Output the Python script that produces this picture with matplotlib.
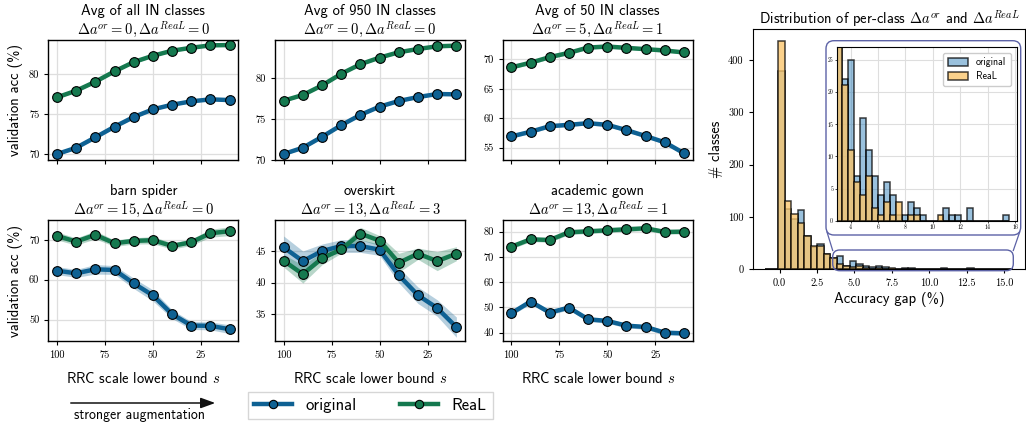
import numpy as np
import matplotlib
matplotlib.use("Agg")
import matplotlib.pyplot as plt
from matplotlib.patches import FancyBboxPatch, FancyArrowPatch
from matplotlib.lines import Line2D
from matplotlib.transforms import IdentityTransform
from matplotlib.colors import to_rgba

# ---------------- data ----------------
s_values = [100, 90, 80, 70, 60, 50, 40, 30, 20, 10]

titles = ["Avg of all IN classes", "Avg of 950 IN classes", "Avg of 50 IN classes",
          "barn spider", "overskirt", "academic gown"]
delta_or = [0, 0, 5, 15, 13, 13]
delta_real = [0, 0, 1, 0, 3, 1]

orig_all = [70.04, 70.83, 72.13, 73.46, 74.67, 75.63, 76.21, 76.63, 76.88, 76.79]
real_all = [77.13, 77.96, 79.08, 80.38, 81.54, 82.33, 82.96, 83.33, 83.63, 83.67]
orig_950 = [70.73, 71.50, 72.83, 74.25, 75.51, 76.52, 77.21, 77.69, 78.06, 78.02]
real_950 = [77.25, 77.94, 79.11, 80.53, 81.70, 82.51, 83.16, 83.56, 83.89, 83.97]
orig_50 = [56.91, 57.70, 58.65, 58.88, 59.16, 58.88, 57.98, 56.97, 55.90, 54.04]
real_50 = [68.65, 69.44, 70.39, 71.12, 72.02, 72.19, 71.97, 71.74, 71.52, 71.18]
orig_spider = [62.27, 61.60, 62.61, 62.44, 59.08, 56.05, 51.34, 48.49, 48.40, 47.56]
real_spider = [71.00, 69.58, 71.26, 69.16, 69.75, 69.92, 68.49, 69.41, 71.68, 72.18]
orig_skirt = [45.58, 43.41, 45.00, 45.79, 45.79, 45.21, 41.19, 38.02, 36.01, 32.99]
real_skirt = [43.47, 41.35, 43.84, 45.26, 47.75, 46.64, 43.15, 44.58, 43.41, 44.58]
orig_gown = [47.68, 52.32, 47.95, 49.93, 45.30, 44.64, 42.78, 42.25, 40.00, 39.74]
real_gown = [74.04, 76.95, 76.69, 79.74, 80.13, 80.53, 80.93, 81.32, 79.87, 80.00]

# half-widths of the shaded bands
err_orig_all = [0.15] * 10
err_real_all = [0.15] * 10
err_orig_950 = [0.15] * 10
err_real_950 = [0.15] * 10
err_orig_50 = [0.3] * 10
err_real_50 = [0.3] * 10
err_orig_spider = [1.0, 1.0, 1.2, 1.1, 1.3, 1.4, 1.1, 1.0, 1.0, 1.1]
err_real_spider = [1.0, 0.9, 1.0, 0.8, 0.8, 0.9, 0.8, 0.8, 1.0, 1.1]
err_orig_skirt = [1.8, 1.6, 1.1, 1.0, 1.0, 0.9, 1.2, 1.3, 1.3, 1.6]
err_real_skirt = [1.0, 1.4, 1.0, 0.6, 1.0, 0.8, 1.5, 0.9, 1.5, 1.1]
err_orig_gown = [0.9] * 10
err_real_gown = [0.9] * 10

orig_series = [orig_all, orig_950, orig_50, orig_spider, orig_skirt, orig_gown]
real_series = [real_all, real_950, real_50, real_spider, real_skirt, real_gown]
orig_errs = [err_orig_all, err_orig_950, err_orig_50, err_orig_spider, err_orig_skirt, err_orig_gown]
real_errs = [err_real_all, err_real_950, err_real_50, err_real_spider, err_real_skirt, err_real_gown]
ylims = [(69.3, 84.3), (70.0, 84.66), (52.9, 73.3), (44.6, 75.0), (30.8, 49.9), (36.7, 84.6)]

# histogram of per-class accuracy gaps (bins of equal width)
hist_bin_start = -0.97
hist_bin_width = 0.435
hist_orig = [0, 0, 380, 115, 97, 113, 63, 43, 48, 29, 22, 25, 7, 16, 11, 7, 4, 6, 4,
             1, 1, 3, 2, 1, 0, 0, 0, 2, 1, 1, 0, 2, 0, 0, 0, 0, 0, 1]
hist_real = [0, 0, 437, 130, 105, 88, 63, 45, 45, 29, 21, 11, 6, 4, 7, 2, 1, 3, 1,
             3, 0, 1, 1, 0, 0, 0, 1, 0, 0, 0, 0, 0, 0, 0, 0, 0, 0, 0]

# ---------------- style ----------------
plt.rcParams["font.family"] = ["cmss10", "DejaVu Sans"]
plt.rcParams["mathtext.fontset"] = "cm"
plt.rcParams["axes.unicode_minus"] = False

C_OR = "#0e6193"
C_RL = "#15794f"
HIST_OR = to_rgba("#1f77b4", 0.45)
HIST_RL = to_rgba("#fbc56a", 0.78)
HIST_EDGE = (0, 0, 0, 0.75)
GRID = "#dedede"
BOX = "#5c62a6"

W, H = 1026, 425
fig = plt.figure(figsize=(W / 100, H / 100), dpi=100)

lefts = [48.3 / W, 275 / W, 502.7 / W]
width = 190 / W
bottoms = [1 - 160 / H, 1 - 341 / H]
heights = [120 / H, 121 / H]

axes = []
for r in range(2):
    for c in range(3):
        ax = fig.add_axes([lefts[c], bottoms[r], width, heights[r]])
        axes.append(ax)

for i, ax in enumerate(axes):
    x = np.array(s_values)
    for y, e, col in [(orig_series[i], orig_errs[i], C_OR), (real_series[i], real_errs[i], C_RL)]:
        y = np.array(y)
        e = np.array(e)
        ax.fill_between(x, y - e, y + e, color=col, alpha=0.3, lw=0)
        ax.plot(x, y, "-o", color=col, lw=3.2, ms=7, mec="black", mew=0.8)
    ax.set_xlim(104.5, 5.5)
    ax.set_xticks([100, 75, 50, 25])
    ax.set_ylim(*ylims[i])
    ax.grid(True, color=GRID, lw=0.9)
    ax.set_axisbelow(True)
    for sp in ax.spines.values():
        sp.set_color("black")
        sp.set_linewidth(1.0)
    ax.tick_params(labelsize=7.5, labelfontfamily="cmr10", length=3, width=0.8)
    ax.set_title(titles[i] + "\n" + r"$\Delta a^{or}=%d, \Delta a^{ReaL}=%d$" % (delta_or[i], delta_real[i]),
                 fontsize=10.5, pad=4, linespacing=1.15)
    if i < 3:
        ax.tick_params(labelbottom=False)
    else:
        ax.set_xlabel(r"RRC scale lower bound $s$", fontsize=10.5, labelpad=8)
    if i in (0, 3):
        ax.set_ylabel("validation acc (%)", fontsize=10.5, labelpad=4)

# ---------------- histogram ----------------
edges = hist_bin_start + hist_bin_width * np.arange(len(hist_orig) + 1)
centers = edges[:-1] + hist_bin_width / 2

def draw_hist(a):
    a.hist(centers, bins=edges, weights=hist_orig, facecolor=HIST_OR, edgecolor=HIST_EDGE, lw=1.1, label="original")
    a.hist(centers, bins=edges, weights=hist_real, facecolor=HIST_RL, edgecolor=HIST_EDGE, lw=1.1, label="ReaL")

axh = fig.add_axes([752.7 / W, 1 - 269.3 / H, (1025 - 752.7) / W, (269.3 - 29.3) / H])
draw_hist(axh)
axh.set_xticks([0, 2.5, 5, 7.5, 10, 12.5, 15])
axh.set_xticklabels(["0.0", "2.5", "5.0", "7.5", "10.0", "12.5", "15.0"])
axh.set_yticks([0, 100, 200, 300, 400])
axh.tick_params(labelsize=7.5, labelfontfamily="cmr10", length=3, width=0.8)
axh.set_xlabel("Accuracy gap (%)", fontsize=10.5, labelpad=3)
axh.set_ylabel("# classes", fontsize=10.5)
axh.set_title(r"Distribution of per-class $\Delta a^{or}$ and $\Delta a^{ReaL}$", fontsize=10.5, pad=3)
for sp in axh.spines.values():
    sp.set_color("black")

# inset
axi = fig.add_axes([836.7 / W, 1 - 221 / H, (1016.7 - 836.7) / W, (221 - 46.7) / H])
draw_hist(axi)
axi.set_xlim(2.98, 16.12)
axi.set_ylim(0, 27)
axi.set_xticks([4, 6, 8, 10, 12, 14, 16])
axi.set_yticks([0, 5, 10, 15, 20, 25])
axi.tick_params(labelsize=4.2, labelfontfamily="cmr10", length=1.5, width=0.5, pad=1)
axi.grid(True, color=GRID, lw=0.8)
axi.set_axisbelow(True)
for sp in axi.spines.values():
    sp.set_color("black")
axi.legend(loc="upper right", fontsize=7.2, frameon=True, framealpha=1, edgecolor="#cccccc",
           fancybox=True, borderpad=0.45, handlelength=2.0, handleheight=0.9, labelspacing=0.4,
           borderaxespad=0.6)

# rounded boxes and connectors (pixel coordinates, origin bottom-left)
def px(x, y):
    return x, H - y

big = FancyBboxPatch(px(826, 235), 1020.7 - 826, 235 - 40.7, boxstyle="round,pad=0,rounding_size=8",
                     transform=IdentityTransform(), fill=False, ec=BOX, lw=1.0, zorder=10)
small = FancyBboxPatch(px(832.7, 270.7), 1013.3 - 832.7, 270.7 - 250, boxstyle="round,pad=0,rounding_size=7",
                       transform=IdentityTransform(), fill=False, ec=BOX, lw=1.0, zorder=10)
fig.add_artist(big)
fig.add_artist(small)
fig.add_artist(Line2D([826 + 1, 832.7], [H - 232, H - 250.5], transform=IdentityTransform(), color=BOX, lw=0.9))
fig.add_artist(Line2D([1020.7 - 1, 1013.3], [H - 232, H - 250.5], transform=IdentityTransform(), color=BOX, lw=0.9))

# ---------------- bottom annotations ----------------
fig.add_artist(FancyArrowPatch((68 / W, 1 - 403 / H), (218 / W, 1 - 403 / H),
               transform=fig.transFigure, arrowstyle="-|>,head_length=5.5,head_width=2.0",
               color="#111111", lw=1.1, mutation_scale=1.6))
fig.text(140 / W, 1 - 415 / H, "stronger augmentation", ha="center", va="center", fontsize=10)

handles = [Line2D([], [], color=C_OR, lw=3.2, marker="o", ms=6, mec="black", mew=0.8),
           Line2D([], [], color=C_RL, lw=3.2, marker="o", ms=6, mec="black", mew=0.8)]
fig.legend(handles, ["original", "ReaL"], loc="upper left", bbox_to_anchor=(248 / W, 1 - 392 / H),
           ncol=2, fontsize=12, frameon=True, fancybox=False, edgecolor="#cccccc",
           handlelength=2.3, handletextpad=0.8, columnspacing=2.6, borderpad=0.35, borderaxespad=0)

fig.savefig("out.png", dpi=100)
